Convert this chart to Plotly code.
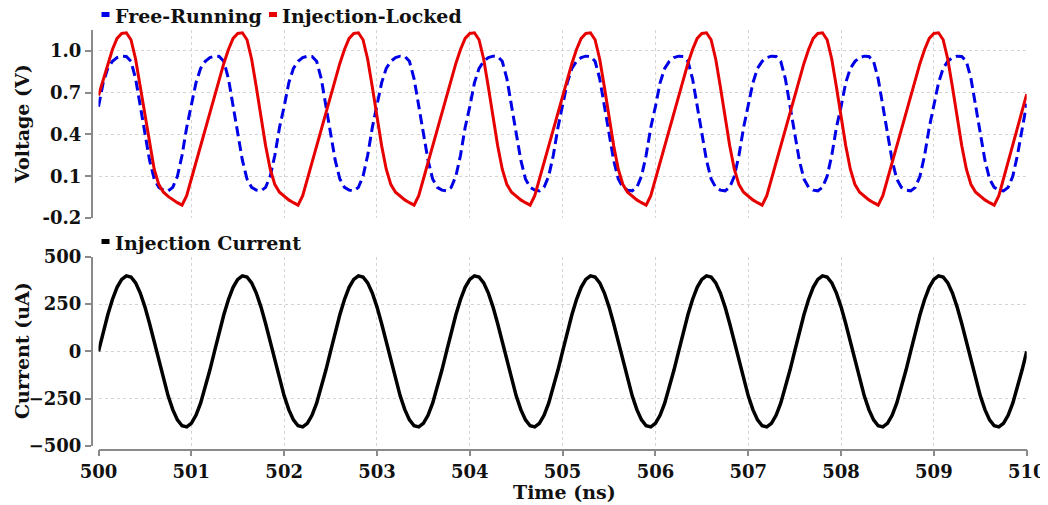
import plotly.graph_objects as go

# ---------------- data ----------------
time_ns = [round(500 + 0.05 * i, 2) for i in range(201)]

voltage_free_running = [
    0.60, 0.77, 0.875, 0.925, 0.952, 0.962, 0.96, 0.925, 0.80, 0.61, 0.40, 0.215, 0.08, 0.02, 0.0, -0.005, 0.02, 0.10, 0.25, 0.45,
    0.61, 0.77, 0.875, 0.925, 0.952, 0.962, 0.96, 0.925, 0.80, 0.61, 0.40, 0.215, 0.08, 0.02, 0.0, -0.005, 0.02, 0.10, 0.25, 0.45,
    0.60, 0.77, 0.875, 0.925, 0.952, 0.962, 0.96, 0.925, 0.80, 0.61, 0.40, 0.215, 0.08, 0.02, 0.0, -0.005, 0.02, 0.10, 0.25, 0.45,
    0.61, 0.77, 0.875, 0.925, 0.952, 0.962, 0.96, 0.925, 0.80, 0.61, 0.40, 0.215, 0.08, 0.02, 0.0, -0.005, 0.02, 0.10, 0.25, 0.45,
    0.60, 0.77, 0.875, 0.925, 0.952, 0.962, 0.96, 0.925, 0.80, 0.61, 0.40, 0.215, 0.08, 0.02, 0.0, -0.005, 0.02, 0.10, 0.25, 0.45,
    0.61, 0.77, 0.875, 0.925, 0.952, 0.962, 0.96, 0.925, 0.80, 0.61, 0.40, 0.215, 0.08, 0.02, 0.0, -0.005, 0.02, 0.10, 0.25, 0.45,
    0.60, 0.77, 0.875, 0.925, 0.952, 0.962, 0.96, 0.925, 0.80, 0.61, 0.40, 0.215, 0.08, 0.02, 0.0, -0.005, 0.02, 0.10, 0.25, 0.45,
    0.61, 0.77, 0.875, 0.925, 0.952, 0.962, 0.96, 0.925, 0.80, 0.61, 0.40, 0.215, 0.08, 0.02, 0.0, -0.005, 0.02, 0.10, 0.25, 0.45,
    0.60, 0.77, 0.875, 0.925, 0.952, 0.962, 0.96, 0.925, 0.80, 0.61, 0.40, 0.215, 0.08, 0.02, 0.0, -0.005, 0.02, 0.10, 0.25, 0.45,
    0.61, 0.77, 0.875, 0.925, 0.952, 0.962, 0.96, 0.925, 0.80, 0.61, 0.40, 0.215, 0.08, 0.02, 0.0, -0.005, 0.02, 0.10, 0.25, 0.45,
    0.62,
]

voltage_injection_locked = [
    0.68, 0.795, 0.91, 1.01, 1.09, 1.125, 1.13, 1.08, 0.94, 0.74, 0.52, 0.32, 0.15, 0.04, -0.015, -0.045, -0.07, -0.09, -0.108, -0.04, 0.08, 0.20, 0.32, 0.44, 0.56,
    0.68, 0.795, 0.91, 1.01, 1.09, 1.125, 1.13, 1.08, 0.94, 0.74, 0.52, 0.32, 0.15, 0.04, -0.015, -0.045, -0.07, -0.09, -0.108, -0.04, 0.08, 0.20, 0.32, 0.44, 0.56,
    0.68, 0.795, 0.91, 1.01, 1.09, 1.125, 1.13, 1.08, 0.94, 0.74, 0.52, 0.32, 0.15, 0.04, -0.015, -0.045, -0.07, -0.09, -0.108, -0.04, 0.08, 0.20, 0.32, 0.44, 0.56,
    0.68, 0.795, 0.91, 1.01, 1.09, 1.125, 1.13, 1.08, 0.94, 0.74, 0.52, 0.32, 0.15, 0.04, -0.015, -0.045, -0.07, -0.09, -0.108, -0.04, 0.08, 0.20, 0.32, 0.44, 0.56,
    0.68, 0.795, 0.91, 1.01, 1.09, 1.125, 1.13, 1.08, 0.94, 0.74, 0.52, 0.32, 0.15, 0.04, -0.015, -0.045, -0.07, -0.09, -0.108, -0.04, 0.08, 0.20, 0.32, 0.44, 0.56,
    0.68, 0.795, 0.91, 1.01, 1.09, 1.125, 1.13, 1.08, 0.94, 0.74, 0.52, 0.32, 0.15, 0.04, -0.015, -0.045, -0.07, -0.09, -0.108, -0.04, 0.08, 0.20, 0.32, 0.44, 0.56,
    0.68, 0.795, 0.91, 1.01, 1.09, 1.125, 1.13, 1.08, 0.94, 0.74, 0.52, 0.32, 0.15, 0.04, -0.015, -0.045, -0.07, -0.09, -0.108, -0.04, 0.08, 0.20, 0.32, 0.44, 0.56,
    0.68, 0.795, 0.91, 1.01, 1.09, 1.125, 1.13, 1.08, 0.94, 0.74, 0.52, 0.32, 0.15, 0.04, -0.015, -0.045, -0.07, -0.09, -0.108, -0.04, 0.08, 0.20, 0.32, 0.44, 0.56,
    0.69,
]

injection_current_uA = [
    0, 99, 193, 274, 338, 380, 399, 393, 362, 308, 235, 147, 50, -50, -147, -235, -308, -362, -393, -399, -380, -338, -274, -193, -99,
    0, 99, 193, 274, 338, 380, 399, 393, 362, 308, 235, 147, 50, -50, -147, -235, -308, -362, -393, -399, -380, -338, -274, -193, -99,
    0, 99, 193, 274, 338, 380, 399, 393, 362, 308, 235, 147, 50, -50, -147, -235, -308, -362, -393, -399, -380, -338, -274, -193, -99,
    0, 99, 193, 274, 338, 380, 399, 393, 362, 308, 235, 147, 50, -50, -147, -235, -308, -362, -393, -399, -380, -338, -274, -193, -99,
    0, 99, 193, 274, 338, 380, 399, 393, 362, 308, 235, 147, 50, -50, -147, -235, -308, -362, -393, -399, -380, -338, -274, -193, -99,
    0, 99, 193, 274, 338, 380, 399, 393, 362, 308, 235, 147, 50, -50, -147, -235, -308, -362, -393, -399, -380, -338, -274, -193, -99,
    0, 99, 193, 274, 338, 380, 399, 393, 362, 308, 235, 147, 50, -50, -147, -235, -308, -362, -393, -399, -380, -338, -274, -193, -99,
    0, 99, 193, 274, 338, 380, 399, 393, 362, 308, 235, 147, 50, -50, -147, -235, -308, -362, -393, -399, -380, -338, -274, -193, -99,
    0,
]

x_ticks = [500, 501, 502, 503, 504, 505, 506, 507, 508, 509, 510]
voltage_ticks = [-0.2, 0.1, 0.4, 0.7, 1.0]
voltage_tick_text = ["-0.2", "0.1", "0.4", "0.7", "1.0"]
current_ticks = [-500, -250, 0, 250, 500]

# ---------------- layout helpers ----------------
# the page body has an 8px margin, so the figure is drawn 8px in from the window edge
OFF = 8
W, H = 1040, 497


def fx(px):
    return (px - OFF) / W


def fy(py):
    return 1 - (py - OFF) / H


FONT = "DejaVu Serif"
tick_font = dict(family=FONT, size=18, color="#111111", weight="bold")
label_font = dict(family=FONT, size=19, color="#111111", weight="bold")

AXIS_GREY = "#8a8a8a"
GRID = "#d4d4d4"

x_domain = [fx(98.5), fx(1026.7)]

fig = go.Figure()
fig.add_trace(go.Scatter(
    x=time_ns, y=voltage_free_running, xaxis="x2", yaxis="y2", mode="lines",
    name="Free-Running", line=dict(color="#0000e6", width=3, dash="10px,5px"),
))
fig.add_trace(go.Scatter(
    x=time_ns, y=voltage_injection_locked, xaxis="x2", yaxis="y2", mode="lines",
    name="Injection-Locked", line=dict(color="#e60000", width=3),
))
fig.add_trace(go.Scatter(
    x=time_ns, y=injection_current_uA, xaxis="x", yaxis="y", mode="lines",
    name="Injection Current", line=dict(color="#000000", width=3.5),
))

fig.update_layout(
    width=W, height=H, autosize=False,
    margin=dict(l=0, r=0, t=0, b=0),
    paper_bgcolor="white", plot_bgcolor="white",
    showlegend=False,
    xaxis=dict(
        domain=x_domain, range=[500, 510], anchor="free", position=fy(449.5),
        tickvals=x_ticks, showline=True, linecolor=AXIS_GREY, linewidth=1.5,
        ticks="outside", ticklen=6, tickwidth=1.5, tickcolor=AXIS_GREY,
        showgrid=True, gridcolor=GRID, griddash="dot", gridwidth=1,
        zeroline=False, tickfont=tick_font, automargin=False,
    ),
    yaxis=dict(
        domain=[fy(446), fy(256.7)], range=[-500, 500], anchor="free", position=fx(91.7),
        tickvals=current_ticks, showline=True, linecolor=AXIS_GREY, linewidth=1.5,
        ticks="outside", ticklen=6, tickwidth=1.5, tickcolor=AXIS_GREY,
        showgrid=True, gridcolor=GRID, griddash="dot", gridwidth=1,
        zeroline=False, tickfont=tick_font, automargin=False,
    ),
    xaxis2=dict(
        domain=x_domain, range=[500, 510], anchor="y2",
        tickvals=x_ticks, showticklabels=False, ticks="", showline=False,
        showgrid=True, gridcolor=GRID, griddash="dot", gridwidth=1,
        zeroline=False, automargin=False,
    ),
    yaxis2=dict(
        domain=[fy(218), fy(30)], range=[-0.2, 1.15], anchor="free", position=fx(91.7),
        tickvals=voltage_ticks, ticktext=voltage_tick_text,
        showline=True, linecolor=AXIS_GREY, linewidth=1.5,
        ticks="outside", ticklen=6, tickwidth=1.5, tickcolor=AXIS_GREY,
        showgrid=True, gridcolor=GRID, griddash="dot", gridwidth=1,
        zeroline=False, tickfont=tick_font, automargin=False,
    ),
)

# axis titles
fig.add_annotation(text="Voltage (V)", x=fx(22), y=fy(124), xref="paper", yref="paper",
                   textangle=-90, showarrow=False, font=label_font, xanchor="center", yanchor="middle")
fig.add_annotation(text="Current (uA)", x=fx(22), y=fy(351), xref="paper", yref="paper",
                   textangle=-90, showarrow=False, font=label_font, xanchor="center", yanchor="middle")
fig.add_annotation(text="Time (ns)", x=fx(564), y=fy(492), xref="paper", yref="paper",
                   showarrow=False, font=label_font, xanchor="center", yanchor="middle")

# legend entries
legend_items = [
    ("Free-Running", "#0000e6", 101.5, 113, 15.5),
    ("Injection-Locked", "#e60000", 269, 280, 15.5),
    ("Injection Current", "#000000", 101.5, 113, 242.5),
]
for name, color, sx, tx, cy in legend_items:
    fig.add_shape(type="rect", xref="paper", yref="paper",
                  x0=fx(sx), x1=fx(sx + 8), y0=fy(cy - 3.5), y1=fy(cy + 1.5),
                  fillcolor=color, line=dict(width=0))
    fig.add_annotation(text=name, x=fx(tx), y=fy(cy), xref="paper", yref="paper",
                       showarrow=False, font=label_font, xanchor="left", yanchor="middle")

fig.write_html("out.html")
